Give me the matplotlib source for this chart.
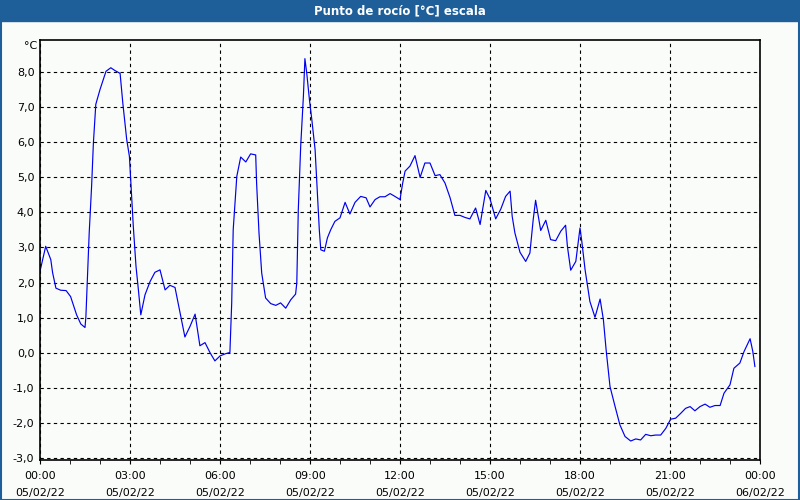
import matplotlib
matplotlib.use("Agg")
from matplotlib import pyplot as plt
from matplotlib.patches import Rectangle
import numpy as np

# hours since 05/02/22 00:00 and dew point (°C)
hours = [0.00, 0.19, 0.36, 0.42, 0.53, 0.69, 0.87, 1.02, 1.22, 1.36, 1.50, 1.53, 1.64, 1.72,
         1.78, 1.86, 2.00, 2.20, 2.36, 2.50, 2.67, 2.76, 2.89, 2.98, 3.03, 3.11, 3.20, 3.28,
         3.36, 3.50, 3.67, 3.83, 4.00, 4.17, 4.33, 4.50, 4.67, 4.83, 5.00, 5.17, 5.33, 5.50,
         5.67, 5.83, 6.00, 6.17, 6.33, 6.39, 6.44, 6.56, 6.69, 6.86, 7.02, 7.19, 7.22, 7.30,
         7.39, 7.52, 7.69, 7.86, 8.02, 8.19, 8.36, 8.52, 8.56, 8.61, 8.69, 8.78, 8.83, 8.89,
         8.98, 9.06, 9.17, 9.24, 9.31, 9.36, 9.48, 9.58, 9.69, 9.83, 10.00, 10.17, 10.33,
         10.50, 10.69, 10.87, 11.00, 11.17, 11.33, 11.50, 11.67, 11.83, 12.00, 12.09, 12.17,
         12.33, 12.50, 12.67, 12.83, 13.00, 13.17, 13.33, 13.50, 13.67, 13.83, 14.00, 14.17,
         14.33, 14.52, 14.67, 14.86, 15.00, 15.19, 15.36, 15.52, 15.67, 15.74, 15.83, 16.00,
         16.19, 16.33, 16.44, 16.52, 16.69, 16.86, 17.02, 17.19, 17.36, 17.52, 17.58, 17.69,
         17.86, 18.00, 18.06, 18.17, 18.33, 18.50, 18.67, 18.78, 18.87, 19.00, 19.17, 19.33,
         19.50, 19.69, 19.86, 20.02, 20.19, 20.36, 20.52, 20.69, 20.86, 21.02, 21.19, 21.36,
         21.52, 21.67, 21.83, 22.00, 22.17, 22.33, 22.50, 22.67, 22.80, 23.00, 23.13, 23.33,
         23.47, 23.67, 23.76, 23.83]
dew = [2.32, 3.03, 2.65, 2.28, 1.84, 1.78, 1.77, 1.60, 1.08, 0.82, 0.72, 1.03, 3.41, 4.74,
       5.97, 7.07, 7.49, 8.01, 8.11, 8.03, 7.95, 7.11, 6.07, 5.59, 4.83, 3.60, 2.46, 1.79,
       1.08, 1.65, 2.03, 2.29, 2.36, 1.79, 1.92, 1.86, 1.13, 0.45, 0.75, 1.10, 0.20, 0.29,
       0.00, -0.23, -0.09, -0.03, 0.01, 1.41, 3.50, 5.02, 5.57, 5.43, 5.66, 5.63, 4.83, 3.41,
       2.27, 1.56, 1.40, 1.35, 1.42, 1.27, 1.51, 1.67, 1.99, 4.07, 5.88, 7.30, 8.37, 7.97,
       7.21, 6.64, 5.78, 4.64, 3.50, 2.93, 2.89, 3.27, 3.50, 3.74, 3.84, 4.28, 3.95,
       4.28, 4.45, 4.41, 4.15, 4.36, 4.44, 4.44, 4.53, 4.45, 4.36, 4.83, 5.17,
       5.31, 5.61, 4.99, 5.40, 5.40, 5.04, 5.07, 4.83, 4.41, 3.91, 3.91, 3.85,
       3.81, 4.12, 3.65, 4.62, 4.38, 3.81, 4.09, 4.45, 4.60, 3.88, 3.41, 2.86,
       2.60, 2.84, 3.79, 4.34, 3.48, 3.77, 3.22, 3.19, 3.46, 3.63, 3.03, 2.35,
       2.60, 3.55, 3.17, 2.36, 1.46, 1.01, 1.53, 0.94, 0.09, -0.96, -1.53, -2.05,
       -2.38, -2.51, -2.45, -2.48, -2.32, -2.36, -2.34, -2.34, -2.15, -1.89, -1.86, -1.72,
       -1.58, -1.53, -1.65, -1.53, -1.46, -1.55, -1.50, -1.50, -1.15, -0.91, -0.44, -0.29,
       0.04, 0.40, 0.04, -0.39]

x_ticks = [0, 3, 6, 9, 12, 15, 18, 21, 24]
x_labels = ["00:00\n05/02/22", "03:00\n05/02/22", "06:00\n05/02/22", "09:00\n05/02/22",
            "12:00\n05/02/22", "15:00\n05/02/22", "18:00\n05/02/22", "21:00\n05/02/22",
            "00:00\n06/02/22"]
y_ticks = [-3, -2, -1, 0, 1, 2, 3, 4, 5, 6, 7, 8]
y_labels = ["{:.1f}".format(v).replace(".", ",") for v in y_ticks]

blue = "#1f5f99"
bg = "#fafcfa"

fig = plt.figure(figsize=(8, 5), dpi=100, facecolor=bg)
ax = fig.add_axes([40/800, 40/500, 720/800, 420/500])
ax.set_facecolor(bg)

ax.plot(hours, dew, color="#0000ee", lw=0.85)

ax.set_xlim(0, 24)
ax.set_ylim(-3.05, 8.90)
ax.set_xticks(x_ticks)
ax.set_xticklabels(x_labels, fontsize=8, linespacing=1.85)
ax.set_xticks(np.arange(0, 25, 1), minor=True)
ax.set_yticks(y_ticks)
ax.set_yticklabels(y_labels, fontsize=8)
ax.tick_params(axis="x", which="both", length=3, direction="out", pad=5)
ax.tick_params(axis="y", length=0, pad=4)
ax.grid(True, color="black", ls=(0, (3, 3)), lw=0.8)
for s in ax.spines.values():
    s.set_linewidth(1.2)

fig.text(31/800, 1 - 46/500, "°C", fontsize=8, ha="center", va="center")

# title bar and outer frame
fig.patches.append(Rectangle((0, 1 - 21/500), 1, 21/500, transform=fig.transFigure,
                             color=blue, zorder=0))
fig.patches.append(Rectangle((0.5/800, 0.5/500), 798/800, 1 - 1/500, transform=fig.transFigure,
                             fill=False, edgecolor=blue, lw=1.5, zorder=0))
fig.text(0.5, 1 - 10.5/500, "Punto de rocío [°C] escala", color="white", fontsize=8.5,
         fontweight="bold", ha="center", va="center")

plt.savefig("out.png", dpi=100, facecolor=bg)
